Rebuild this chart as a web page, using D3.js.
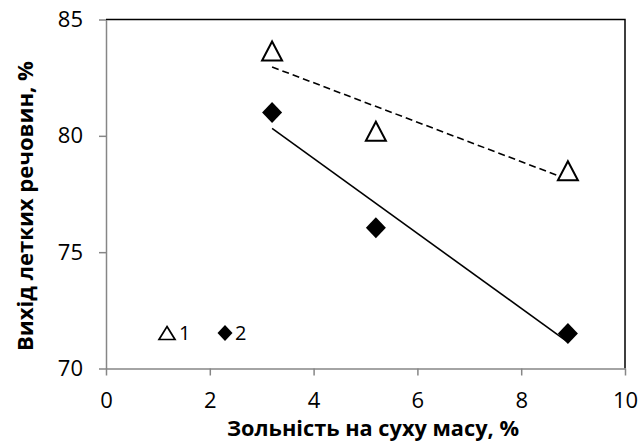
<!DOCTYPE html>
<html>
<head>
<meta charset="utf-8">
<script src="https://cdn.jsdelivr.net/npm/d3@7"></script>
<style>
  body { margin: 0; background: #fff; }
  text { font-family: "Open Sans", "Noto Sans", sans-serif; fill: #000; }
  .axis path, .axis line { stroke: #868686; stroke-width: 1.5; }
  .axis text { font-size: 22px; }
  .title { font-size: 20.5px; font-weight: bold; }
  .legend text { font-size: 20px; }
  .frame { fill: none; stroke: #000; stroke-width: 1.5; }
  .trend { fill: none; stroke: #000; stroke-width: 1.6; }
</style>
</head>
<body>
<script>
// series 1 (triangles) and 2 (diamonds)
const ash1 = [3.2, 5.2, 8.9];
const volatile1 = [83.65, 80.2, 78.5];
const ash2 = [3.2, 5.2, 8.9];
const volatile2 = [81.0, 76.05, 71.5];

const xTicks = [0, 2, 4, 6, 8, 10];
const yTicks = [70, 75, 80, 85];
const legendLabels = ["1", "2"];
const xTitle = "Зольність на суху масу, %";
const yTitle = "Вихід летких речовин, %";

const margin = { top: 19.5, right: 13, bottom: 73.5, left: 106 },
    width = 638 - margin.left - margin.right,
    height = 442 - margin.top - margin.bottom;

const x = d3.scaleLinear().domain([0, 10]).range([0, width]),
    y = d3.scaleLinear().domain([70, 85]).range([height, 0]);

const svg = d3.select('body').append('svg')
    .attr('width', 638)
    .attr('height', 442);

const g = svg.append('g')
    .attr('transform', 'translate(' + margin.left + ',' + margin.top + ')');

// top and right border of the plot area
g.append('path')
    .attr('class', 'frame')
    .attr('d', 'M0,0H' + width + 'V' + height);

g.append('g')
    .attr('class', 'axis')
    .attr('transform', 'translate(0,' + height + ')')
    .call(d3.axisBottom(x).tickValues(xTicks).tickSize(7).tickPadding(16.5).tickSizeOuter(0))
    .call(a => a.selectAll('text').attr('dy', '0.71em'));

g.append('g')
    .attr('class', 'axis')
    .call(d3.axisLeft(y).tickValues(yTicks).tickSize(7).tickPadding(16).tickSizeOuter(0));

// linear trend lines (least squares) over the data range
function fit(xs, ys) {
    const mx = d3.mean(xs), my = d3.mean(ys);
    const sxy = d3.sum(xs, (v, i) => (v - mx) * (ys[i] - my));
    const sxx = d3.sum(xs, v => (v - mx) * (v - mx));
    const k = sxy / sxx;
    return d3.extent(xs).map(v => [v, my + k * (v - mx)]);
}

const line = d3.line().x(d => x(d[0])).y(d => y(d[1]));

g.append('path')
    .attr('class', 'trend')
    .attr('stroke-dasharray', '7,4')
    .attr('d', line(fit(ash1, volatile1)));

g.append('path')
    .attr('class', 'trend')
    .attr('d', line(fit(ash2, volatile2)));

// markers, centred on their bounding box like in Excel
function triangle(w, h) {
    return 'M0,' + (-h / 2) + 'L' + (w / 2) + ',' + (h / 2) + 'L' + (-w / 2) + ',' + (h / 2) + 'Z';
}
function diamond(w, h) {
    return 'M0,' + (-h / 2) + 'L' + (w / 2) + ',0L0,' + (h / 2) + 'L' + (-w / 2) + ',0Z';
}

g.selectAll('.tri')
    .data(ash1.map((v, i) => [v, volatile1[i]]))
    .join('path')
    .attr('class', 'tri')
    .attr('transform', d => 'translate(' + x(d[0]) + ',' + y(d[1]) + ')')
    .attr('d', triangle(20, 19))
    .attr('fill', '#fff')
    .attr('stroke', '#000')
    .attr('stroke-width', 2);

g.selectAll('.dia')
    .data(ash2.map((v, i) => [v, volatile2[i]]))
    .join('path')
    .attr('class', 'dia')
    .attr('transform', d => 'translate(' + x(d[0]) + ',' + y(d[1]) + ')')
    .attr('d', diamond(20, 21))
    .attr('fill', '#000');

// legend inside the plot
const legend = svg.append('g')
    .attr('class', 'legend')
    .attr('transform', 'translate(167,333)');

legend.append('path')
    .attr('d', triangle(16, 13))
    .attr('fill', 'none')
    .attr('stroke', '#000')
    .attr('stroke-width', 1.7);
legend.append('text')
    .attr('x', 12)
    .attr('dy', '0.36em')
    .text(legendLabels[0]);

legend.append('path')
    .attr('transform', 'translate(58,0)')
    .attr('d', diamond(15, 16))
    .attr('fill', '#000');
legend.append('text')
    .attr('x', 68)
    .attr('dy', '0.36em')
    .text(legendLabels[1]);

// axis titles
svg.append('text')
    .attr('class', 'title')
    .attr('x', 373)
    .attr('y', 436)
    .attr('text-anchor', 'middle')
    .attr('textLength', 292)
    .attr('lengthAdjust', 'spacingAndGlyphs')
    .text(xTitle);

svg.append('text')
    .attr('class', 'title')
    .attr('transform', 'translate(33,206) rotate(-90)')
    .attr('text-anchor', 'middle')
    .attr('textLength', 290)
    .attr('lengthAdjust', 'spacingAndGlyphs')
    .text(yTitle);
</script>
</body>
</html>
